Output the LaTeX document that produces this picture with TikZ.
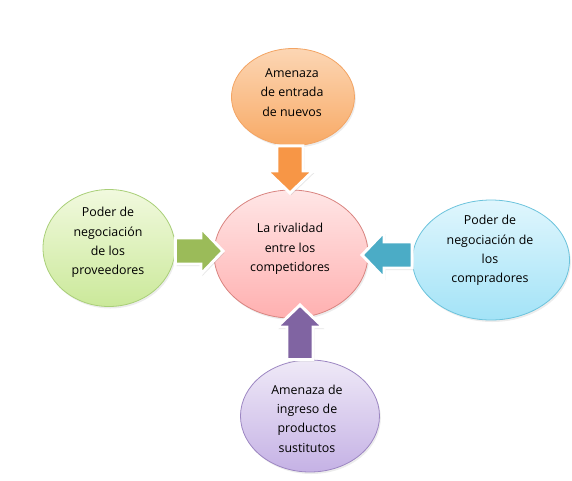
\documentclass[tikz,border=0pt]{standalone}
\usepackage{fontspec}
\setmainfont{Open Sans}
\usetikzlibrary{positioning,calc,shapes.geometric,shadows}
\definecolor{orangeA}{HTML}{F79646}
\definecolor{greenA}{HTML}{9BBB59}
\definecolor{blueA}{HTML}{4BACC6}
\definecolor{purpleA}{HTML}{8064A2}
\definecolor{orangeT}{HTML}{FCD6B4}
\definecolor{orangeB}{HTML}{F8AA66}
\definecolor{orangeL}{HTML}{F3A463}
\definecolor{greenT}{HTML}{F1F9DE}
\definecolor{greenB}{HTML}{CBE99A}
\definecolor{greenL}{HTML}{A9CF78}
\definecolor{blueT}{HTML}{E0F6FD}
\definecolor{blueB}{HTML}{A3E3F7}
\definecolor{blueL}{HTML}{6BC3DC}
\definecolor{purpleT}{HTML}{EFE9F7}
\definecolor{purpleB}{HTML}{C5B2E5}
\definecolor{purpleL}{HTML}{9C86C2}
\definecolor{pinkT}{HTML}{FFE6E6}
\definecolor{pinkB}{HTML}{FFB0B0}
\definecolor{pinkL}{HTML}{D98480}
\tikzset{
	bubble/.style={ellipse,draw,line width=0.6pt,inner sep=0pt,
		drop shadow={shadow xshift=1pt,shadow yshift=-1.5pt,opacity=.15}},
	txt/.style={align=center,font=\fontsize{9.3}{14.5}\selectfont,text=black},
	blockarrow/.style={draw=white,line width=2.2pt,
		drop shadow={shadow xshift=1pt,shadow yshift=-1.5pt,opacity=.2}}
}
% block arrow: from, to, colour
\newcommand{\blockarrow}[3]{%
	\draw[blockarrow,fill=#3] ($(#1)!9.75pt!90:(#2)$)
		-- ($(#2)!16.5pt!(#1)!9.75pt!90:(#2)$) -- ($(#2)!16.5pt!(#1)!17.25pt!90:(#2)$)
		-- (#2)
		-- ($(#2)!16.5pt!(#1)!17.25pt!-90:(#2)$) -- ($(#2)!16.5pt!(#1)!9.75pt!-90:(#2)$)
		-- ($(#1)!9.75pt!-90:(#2)$) -- cycle;}

\begin{document}
\begin{tikzpicture}[x=0.75pt,y=-0.75pt]
	\useasboundingbox (0,0) rectangle (572,480);
	\node[bubble,draw=pinkL,top color=pinkT,bottom color=pinkB,
		minimum width=115.5pt,minimum height=96pt] (mid) at (291,254) {};
	\node[bubble,draw=orangeL,top color=orangeT,bottom color=orangeB,
		minimum width=92.25pt,minimum height=72.75pt] (top) at (293,97) {};
	\node[bubble,draw=greenL,top color=greenT,bottom color=greenB,
		minimum width=99pt,minimum height=87.75pt] (left) at (109,248) {};
	\node[bubble,draw=blueL,top color=blueT,bottom color=blueB,
		minimum width=117.75pt,minimum height=90pt] (right) at (491,260) {};
	\node[bubble,draw=purpleL,top color=purpleT,bottom color=purpleB,
		minimum width=104.25pt,minimum height=84pt] (bottom) at (310,416) {};

	\coordinate (tipT) at (290,193);
	\coordinate (tipL) at (223,251);
	\coordinate (tipR) at (362,255);
	\coordinate (tipB) at (300,305);

	\blockarrow{tipT |- top.south}{tipT}{orangeA}
	\blockarrow{left.east |- tipL}{tipL}{greenA}
	\blockarrow{right.west |- tipR}{tipR}{blueA}
	\blockarrow{tipB |- bottom.north}{tipB}{purpleA}

	\node[txt] (midtext) at (290,249) {La rivalidad\\entre los\\competidores};
	\node[txt] (toptext) at (292,92.5) {Amenaza\\de entrada\\de nuevos};
	\node[txt] (lefttext) at (108,242.5) {Poder de\\negociación\\de los\\proveedores};
	\node[txt] (righttext) at (490,250.5) {Poder de\\negociación de\\los\\compradores};
	\node[txt] (bottomtext) at (307,418.5) {Amenaza de\\ingreso de\\productos\\sustitutos};
\end{tikzpicture}
\end{document}
